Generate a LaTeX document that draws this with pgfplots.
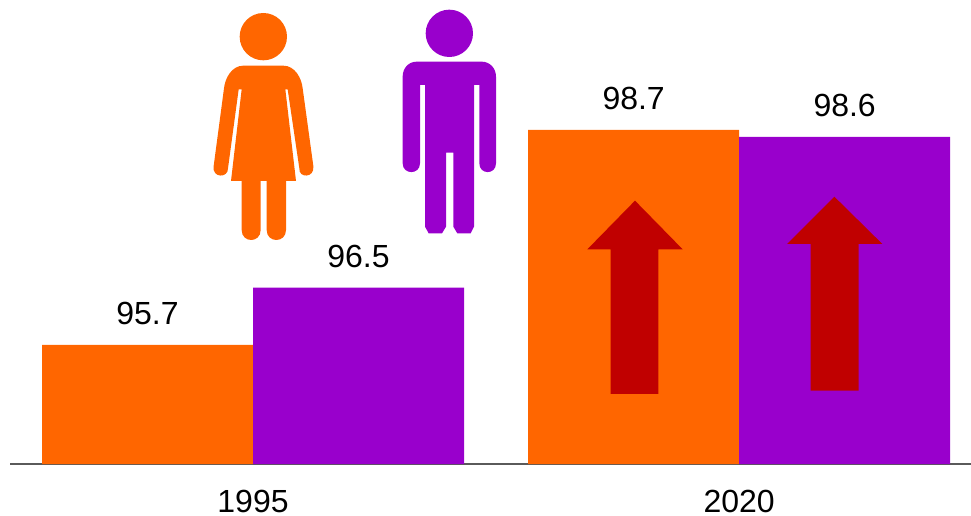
\documentclass[border=0pt]{standalone}
\usepackage{fontspec}
\setmainfont{Liberation Sans}
\usepackage{pgfplots}
\pgfplotsset{compat=1.18}
\definecolor{chartorange}{HTML}{FF6600}
\definecolor{chartpurple}{HTML}{9900CC}
\definecolor{arrowred}{HTML}{C00000}
\definecolor{axisgray}{HTML}{5A5A5A}
\begin{document}
\begin{tikzpicture}
\useasboundingbox (0,0) rectangle (728.25pt,-387pt);
\begin{axis}[
    at={(7.5pt,-348pt)},
    anchor=south west,
    scale only axis,
    width=720.75pt,
    height=348pt,
    ybar=0pt,
    bar width=158.25pt,
    xmin=-0.5, xmax=1.477,
    ymin=94.04, ymax=100.51,
    clip=false,
    axis x line=bottom,
    axis y line=none,
    axis line style={-, draw=axisgray, line width=1.7pt},
    xtick={0,1},
    xticklabels={1995,2020},
    xtick style={draw=none},
    tick label style={font=\fontsize{24}{28}\selectfont},
    xticklabel style={inner sep=0pt, yshift=-19.3pt},
    major tick length=0pt,
    nodes near coords,
    nodes near coords align={vertical},
    every node near coord/.append style={font=\fontsize{24}{28}\selectfont, color=black, yshift=11.5pt},
    /pgf/number format/fixed,
    /pgf/number format/fixed zerofill,
    /pgf/number format/precision=1,
    /pgf/number format/assume math mode=true,
]
\addplot[fill=chartorange, draw=none] coordinates {(0,95.7)(1,98.7)};
\addplot[fill=chartpurple, draw=none] coordinates {(0,96.5)(1,98.6)};
\end{axis}
% pictograms, in pixels of the zoomed crop (1/3 px)
\begin{scope}[shift={(150pt,0pt)}, x=0.25pt, y=-0.25pt]
  \fill[chartorange] (190,110) circle[radius=71];
  \fill[chartorange] (130,197) -- (250,197)
    .. controls (285,197) and (305,235) .. (308,265)
    -- (340,498) .. controls (345,535) and (295,535) .. (298,505)
    -- (263,268) -- (256,268) -- (288,543) -- (258,543) -- (258,690)
    .. controls (258,730) and (200,730) .. (200,690)
    -- (200,543) -- (182,543) -- (182,690)
    .. controls (182,730) and (125,730) .. (125,690)
    -- (125,543) -- (93,543) -- (125,268) -- (116,268) -- (84,505)
    .. controls (85,535) and (35,535) .. (41,498)
    -- (72,265) .. controls (75,235) and (95,197) .. (130,197) -- cycle;
  \fill[chartpurple] (748,100) circle[radius=71];
  \fill[chartpurple] (650,185) -- (845,185)
    .. controls (870,185) and (888,205) .. (888,230)
    -- (888,490) .. controls (888,525) and (838,525) .. (838,490)
    -- (838,255) -- (822,255) -- (822,680) -- (812,700) -- (772,700) -- (760,680)
    -- (760,458) -- (738,458) -- (738,680) -- (726,700) -- (686,700) -- (675,680)
    -- (675,255) -- (660,255) -- (660,490)
    .. controls (660,525) and (608,525) .. (608,490)
    -- (608,230) .. controls (608,205) and (625,185) .. (650,185) -- cycle;
\end{scope}
% arrows, same scale
\begin{scope}[shift={(390pt,-52.5pt)}, x=0.25pt, y=-0.25pt]
  \fill[arrowred] (345,392) -- (488,538) -- (415,538) -- (415,972) -- (272,972) -- (272,538) -- (202,538) -- cycle;
  \fill[arrowred] (943,380) -- (1087,522) -- (1016,522) -- (1016,962) -- (872,962) -- (872,522) -- (801,522) -- cycle;
\end{scope}
\end{tikzpicture}
\end{document}
